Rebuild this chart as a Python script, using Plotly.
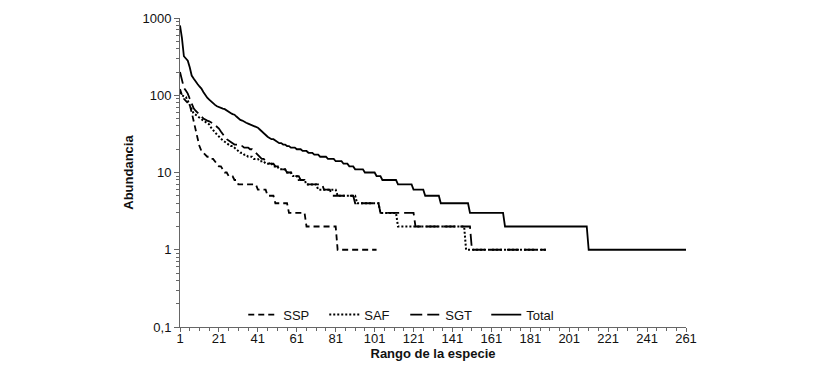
import numpy as np
import plotly.graph_objects as go

# Rank-abundance data stored as (abundance, number of species with that abundance)
ssp_abund = [120, 100, 90, 85, 80, 75, 60, 45, 35, 28, 22, 19, 18, 17, 16, 15, 14, 13, 12, 11, 10, 9, 8, 7, 6, 5, 4, 3, 2, 1]
ssp_count = [1, 1, 1, 1, 1, 1, 1, 1, 1, 1, 1, 1, 1, 1, 2, 2, 1, 1, 2, 1, 2, 3, 2, 10, 5, 4, 7, 9, 16, 21]

saf_abund = [110, 100, 97, 95, 85, 75, 65, 58, 56, 54, 52, 49, 47, 45, 44, 42, 38, 35, 33, 31, 29, 27, 26, 25, 24, 23,
             22, 21, 20, 19, 18, 17, 16, 15, 14, 13, 12, 11, 10, 9, 8, 7, 6, 5, 4, 3, 2, 1]
saf_count = [1, 1, 1, 1, 1, 1, 1, 1, 1, 1, 1, 1, 1, 1, 1, 1, 1, 1, 1, 1, 1, 1, 1, 1, 1, 1,
             2, 1, 1, 1, 2, 2, 3, 3, 3, 4, 3, 4, 3, 3, 4, 6, 10, 10, 12, 9, 35, 42]

sgt_abund = [200, 150, 125, 115, 105, 90, 78, 68, 63, 60, 56, 53, 50, 48, 47, 46, 45, 43, 41, 39, 37, 34, 31, 29, 27,
             26, 25, 24, 23, 22, 21, 20, 19, 18, 17, 16, 15, 14, 13, 12, 11, 10, 9, 8, 7, 6, 5, 4, 3, 2, 1]
sgt_count = [1, 1, 1, 1, 1, 1, 1, 1, 1, 1, 1, 1, 1, 1, 1, 1, 1, 1, 1, 1, 1, 1, 1, 1, 1,
             1, 1, 1, 3, 2, 3, 2, 1, 1, 1, 1, 2, 2, 3, 3, 3, 3, 4, 3, 9, 4, 12, 13, 18, 29, 39]

total_abund = [800, 550, 320, 300, 280, 230, 180, 165, 150, 140, 130, 122, 110, 100, 93, 88, 83, 78, 75, 72, 70, 68,
               67, 66, 63, 61, 59, 57, 56, 53, 50, 48, 47, 45, 44, 43, 42, 41, 40, 39, 38, 36, 34, 32, 30, 29, 28,
               27, 26, 25, 24, 23, 22, 21, 20, 19, 18, 17, 16, 15, 14, 13, 12, 11, 10, 9, 8, 7, 6, 5, 4, 3, 2, 1]
total_count = [1] * 47 + [2, 1, 1, 2, 2, 2, 3, 3, 3, 3, 3, 4, 4, 4, 3, 3, 5, 6, 3, 8, 8, 6, 8, 15, 18, 43, 51]

series_names = ["SSP", "SAF", "SGT", "Total"]
x_tick_labels = ["1", "21", "41", "61", "81", "101", "121", "141", "161", "181", "201", "221", "241", "261"]
y_tick_labels = ["0,1", "1", "10", "100", "1000"]


def expand(abund, count):
    vals = np.repeat(abund, count)
    ranks = np.arange(1, len(vals) + 1)
    return ranks, vals


styles = {
    "SSP": dict(dash="6px,4px", width=1.8),
    "SAF": dict(dash="2px,2px", width=2),
    "SGT": dict(dash="12px,5px", width=1.8),
    "Total": dict(dash="solid", width=1.8),
}
data = {
    "SSP": (ssp_abund, ssp_count),
    "SAF": (saf_abund, saf_count),
    "SGT": (sgt_abund, sgt_count),
    "Total": (total_abund, total_count),
}

fig = go.Figure()
for name in series_names:
    r, v = expand(*data[name])
    fig.add_trace(go.Scatter(
        x=r, y=v, mode="lines", name=name,
        line=dict(color="black", width=styles[name]["width"], dash=styles[name]["dash"]),
    ))

font_family = "Liberation Sans, Arial, sans-serif"
minor_y = [m * 10.0 ** e for e in range(-1, 3) for m in range(2, 10)]

fig.update_layout(
    width=825, height=378,
    margin=dict(l=172, r=147, t=10, b=59, autoexpand=False),
    paper_bgcolor="white", plot_bgcolor="white",
    font=dict(family=font_family, size=13, color="#111"),
    showlegend=True,
    legend=dict(
        orientation="h", x=0.125, y=0.04, xanchor="left", yanchor="middle",
        bgcolor="rgba(0,0,0,0)", font=dict(size=13, color="#111"),
        entrywidth=36, entrywidthmode="pixels", itemwidth=30,
    ),
    xaxis=dict(
        range=[1, 261], tickmode="array", automargin=False,
        tickvals=[int(t) for t in x_tick_labels], ticktext=x_tick_labels,
        showgrid=False, zeroline=False, showline=True, linecolor="#666", linewidth=1,
        ticks="outside", ticklen=4, tickcolor="#666", ticklabelstandoff=-5,
        minor=dict(tickmode="linear", tick0=1, dtick=5, ticks="outside", ticklen=3, tickcolor="#666", showgrid=False),
        title=dict(text="<b>Rango de la especie</b>", font=dict(size=13, color="#111"), standoff=0),
        tickfont=dict(size=13, color="#111"),
    ),
    yaxis=dict(
        type="log", range=[-1, 3], tickmode="array", automargin=False,
        tickvals=[0.1, 1, 10, 100, 1000], ticktext=y_tick_labels,
        showgrid=False, zeroline=False, showline=True, linecolor="#666", linewidth=1,
        ticks="outside", ticklen=5, tickcolor="#666",
        minor=dict(tickmode="array", tickvals=minor_y, ticks="outside", ticklen=3, tickcolor="#666", showgrid=False),
        title=dict(text="<b>Abundancia</b>", font=dict(size=13, color="#111"), standoff=5),
        tickfont=dict(size=13, color="#111"),
    ),
)

fig.write_html("out.html")
